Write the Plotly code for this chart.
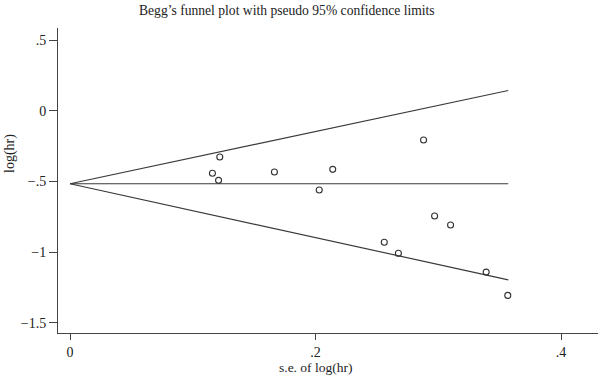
import plotly.graph_objects as go

# Study data (s.e. of log(hr), log(hr))
se = [0.116, 0.122, 0.121, 0.1665, 0.203, 0.214, 0.288, 0.256, 0.2675, 0.297, 0.310, 0.339, 0.3566]
loghr = [-0.443, -0.328, -0.493, -0.434, -0.561, -0.415, -0.207, -0.931, -1.009, -0.745, -0.809, -1.142, -1.307]

# Pooled estimate and pseudo 95% limits endpoints
pooled = -0.517
funnel_se = [0.0, 0.357]
upper_limit = [-0.517, 0.143]
lower_limit = [-0.517, -1.197]

xtick_vals = [0, 0.2, 0.4]
xtick_text = ["0", ".2", ".4"]
ytick_vals = [0.5, 0, -0.5, -1, -1.5]
ytick_text = [".5", "0", "\u2212.5", "\u22121", "\u22121.5"]

FONT = "Liberation Serif"
LINE = "#3a3a3a"
TXT = "#222222"

W, H = 600, 378
L, R, T, B = 58, 2, 28, 45
PW = W - L - R
PH = H - T - B

fig = go.Figure()
fig.add_trace(go.Scatter(x=funnel_se, y=upper_limit, mode="lines",
                         line=dict(color=LINE, width=1.2), hoverinfo="skip"))
fig.add_trace(go.Scatter(x=funnel_se, y=lower_limit, mode="lines",
                         line=dict(color=LINE, width=1.2), hoverinfo="skip"))
fig.add_trace(go.Scatter(x=funnel_se, y=[pooled, pooled], mode="lines",
                         line=dict(color=LINE, width=1.2), hoverinfo="skip"))
fig.add_trace(go.Scatter(x=se, y=loghr, mode="markers",
                         marker=dict(symbol="circle-open", size=6, color="#333333",
                                     line=dict(color="#333333", width=1.1))))

fig.update_layout(
    width=W, height=H,
    margin=dict(l=L, r=R, t=T, b=B),
    paper_bgcolor="white", plot_bgcolor="white",
    showlegend=False,
    font=dict(family=FONT, size=13, color=TXT),
    xaxis=dict(range=[-0.0098, 0.4301], tickvals=xtick_vals, ticktext=xtick_text,
               showgrid=False, zeroline=False, showline=True, linecolor="#444444",
               linewidth=1, ticks="outside", ticklen=6, tickcolor="#444444",
               tickfont=dict(family=FONT, size=14, color=TXT)),
    yaxis=dict(range=[-1.573, 0.585], tickvals=ytick_vals, ticktext=ytick_text,
               showgrid=False, zeroline=False, showline=True, linecolor="#444444",
               linewidth=1, ticks="outside", ticklen=8, tickcolor="#444444",
               tickfont=dict(family=FONT, size=14, color=TXT)),
    annotations=[
        dict(text="Begg\u2019s funnel plot with pseudo 95% confidence limits",
             xref="paper", yref="paper", x=(287 - L) / PW, y=1 + (T - 10) / PH,
             xanchor="center", yanchor="middle", showarrow=False,
             font=dict(family=FONT, size=13.6, color=TXT)),
        dict(text="s.e. of log(hr)", xref="paper", yref="paper",
             x=(315 - L) / PW, y=-(368 - (H - B)) / PH,
             xanchor="center", yanchor="middle", showarrow=False,
             font=dict(family=FONT, size=13.5, color=TXT)),
        dict(text="log(hr)", xref="paper", yref="paper",
             x=-(L - 10) / PW, y=((H - B) - 154) / PH, textangle=-90,
             xanchor="center", yanchor="middle", showarrow=False,
             font=dict(family=FONT, size=14, color=TXT)),
    ],
)

fig.write_html("out.html", config={"displayModeBar": False},
               post_script="document.body.style.margin='0';")
